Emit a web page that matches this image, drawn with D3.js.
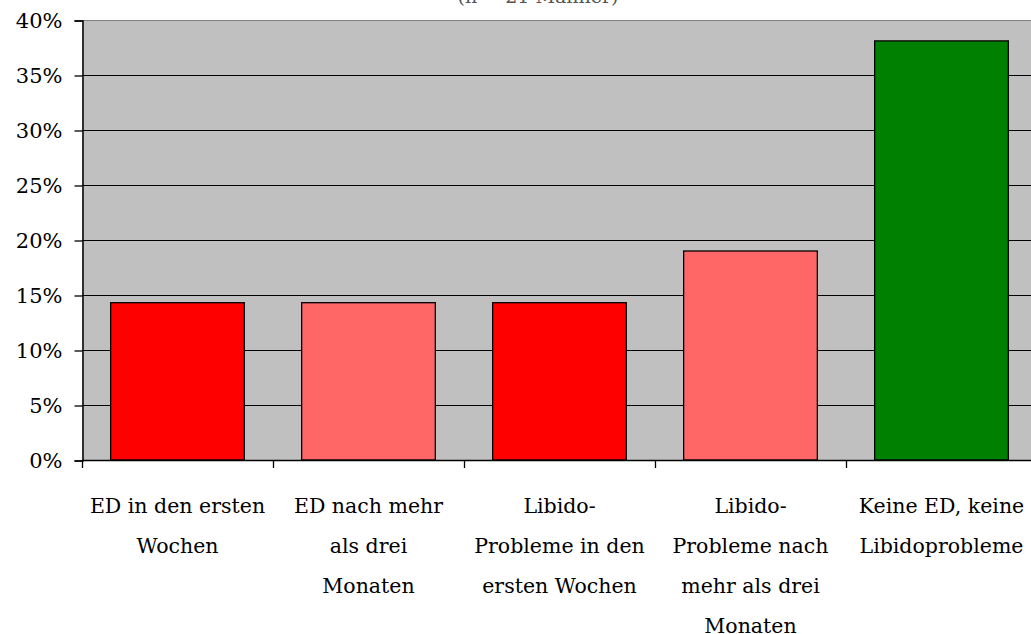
<!DOCTYPE html>
<html>
<head>
<meta charset="utf-8">
<script src="https://cdn.jsdelivr.net/npm/d3@7"></script>
<style>
body { margin: 0; background: #fff; }
</style>
</head>
<body>
<div class="svg-div"></div>
<script>
// data
var categories = [
	["ED in den ersten", "Wochen"],
	["ED nach mehr", "als drei", "Monaten"],
	["Libido-", "Probleme in den", "ersten Wochen"],
	["Libido-", "Probleme nach", "mehr als drei", "Monaten"],
	["Keine ED, keine", "Libidoprobleme"]
];
var values = [14.3, 14.3, 14.3, 19.0, 38.1];
var barColors = ["#ff0000", "#ff6666", "#ff0000", "#ff6666", "#008000"];
var yTicks = [0, 5, 10, 15, 20, 25, 30, 35, 40];

var w = 1031;
var h = 634;
var mLeft = 82, mTop = 20, mRight = 1037, mBottom = 460;
var font = "'DejaVu Serif', 'Liberation Serif', serif";

var svg = d3.select(".svg-div")
	.append("svg")
	.attr("width", w)
	.attr("height", h);

// title, mostly cut off at top
svg.append("text")
	.attr("x", 538)
	.attr("y", 3)
	.attr("text-anchor", "middle")
	.style("font-family", font)
	.style("font-size", "19px")
	.style("fill", "#555")
	.text("(n = 21 Männer)");

var x = d3.scaleBand()
	.domain(d3.range(values.length))
	.range([mLeft, mRight])
	.paddingInner(0.3)
	.paddingOuter(0.15);

var y = d3.scaleLinear()
	.domain([0, 40])
	.range([mBottom, mTop]);

// plot background
svg.append("rect")
	.attr("x", mLeft)
	.attr("y", mTop)
	.attr("width", mRight - mLeft)
	.attr("height", mBottom - mTop)
	.attr("fill", "#c0c0c0");

// gridlines
svg.selectAll("line.grid")
	.data(yTicks.slice(1))
	.enter()
	.append("line")
	.attr("class", "grid")
	.attr("x1", mLeft)
	.attr("x2", mRight)
	.attr("y1", function(d) { return y(d) + 0.5; })
	.attr("y2", function(d) { return y(d) + 0.5; })
	.attr("stroke", function(d) { return d == 40 ? "#808080" : "#000"; })
	.attr("stroke-width", 1.2);

// bars
svg.selectAll("rect.bar")
	.data(values)
	.enter()
	.append("rect")
	.attr("class", "bar")
	.attr("x", function(d, i) { return x(i); })
	.attr("y", function(d) { return y(d); })
	.attr("width", x.bandwidth())
	.attr("height", function(d) { return mBottom - y(d); })
	.attr("fill", function(d, i) { return barColors[i]; })
	.attr("stroke", "#000")
	.attr("stroke-width", 1.3);

// y axis
var yAxis = svg.append("g")
	.attr("transform", "translate(" + (mLeft + 0.5) + ",0.5)")
	.call(d3.axisLeft(y).tickValues(yTicks).tickSize(8).tickPadding(12)
		.tickFormat(function(d) { return d + "%"; }));
yAxis.select(".domain").attr("stroke-width", 1.5);
yAxis.selectAll(".tick line").attr("stroke-width", 1.3);
yAxis.selectAll("text")
	.style("font-family", font)
	.style("font-size", "21px")
	.style("fill", "#000");

// x axis line and ticks at band boundaries
var step = x.step();
var bounds = d3.range(values.length + 1).map(function(i) {
	return x(0) - step * x.paddingOuter() + i * step;
});
svg.append("line")
	.attr("x1", mLeft)
	.attr("x2", mRight)
	.attr("y1", mBottom + 0.5)
	.attr("y2", mBottom + 0.5)
	.attr("stroke", "#000")
	.attr("stroke-width", 1.5);
svg.selectAll("line.xtick")
	.data(bounds)
	.enter()
	.append("line")
	.attr("class", "xtick")
	.attr("x1", function(d) { return d + 0.5; })
	.attr("x2", function(d) { return d + 0.5; })
	.attr("y1", mBottom)
	.attr("y2", mBottom + 8)
	.attr("stroke", "#000")
	.attr("stroke-width", 1.3);

// category labels
var labels = svg.selectAll("text.cat")
	.data(categories)
	.enter()
	.append("text")
	.attr("class", "cat")
	.attr("text-anchor", "middle")
	.style("font-family", font)
	.style("font-size", "20.5px");
labels.each(function(lines, i) {
	var cx = x(i) + x.bandwidth() / 2;
	d3.select(this).selectAll("tspan")
		.data(lines)
		.enter()
		.append("tspan")
		.attr("x", cx)
		.attr("y", function(d, j) { return 513 + j * 40; })
		.text(function(d) { return d; });
});
</script>
</body>
</html>
